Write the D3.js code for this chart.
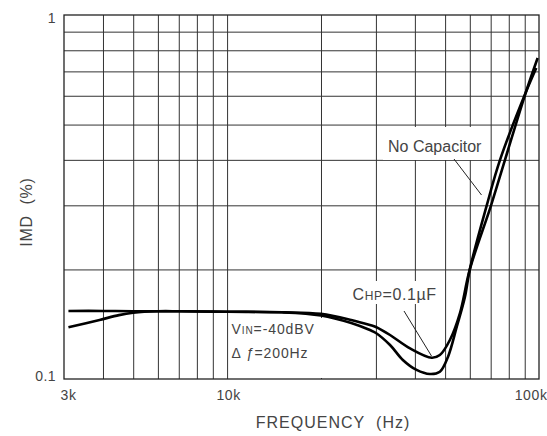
<!DOCTYPE html>
<html>
<head>
<meta charset="utf-8">
<script src="https://cdn.jsdelivr.net/npm/d3@7"></script>
<style>
  html, body { margin: 0; padding: 0; background: #fff; }
  svg { display: block; }
  text { font-family: "Liberation Sans", Arial, Helvetica, sans-serif; fill: #444; white-space: pre; }
</style>
</head>
<body>
<svg id="chart" width="547" height="436"></svg>
<script>
// ---------- data ----------
const xTickValues = [3000, 10000, 100000];
const xTickLabels = ["3k", "10k", "100k"];
const yTickValues = [0.1, 1];
const yTickLabels = ["0.1", "1"];
const xGridValues = [4000, 5000, 6000, 7000, 8000, 9000, 10000, 20000, 30000, 40000, 50000, 60000, 70000, 80000, 90000];
const yGridValues = [0.2, 0.3, 0.4, 0.5, 0.6, 0.7, 0.8, 0.9];

// "No Capacitor" curve (deeper dip)
const noCapFreq = [3100, 4000, 5000, 7000, 10000, 15000, 20000, 25000, 28700, 30000, 33300, 36600, 40500, 44700, 48100, 51100, 54500, 57900, 60000, 68000, 75000, 90800, 98000];
const noCapImd  = [0.1538, 0.1538, 0.1535, 0.1535, 0.153, 0.1525, 0.1495, 0.1425, 0.1363, 0.1338, 0.124, 0.1128, 0.1059, 0.1032, 0.1047, 0.1152, 0.1392, 0.1683, 0.2, 0.3, 0.4, 0.614, 0.715];

// "CHP=0.1µF" curve (shallower dip)
const chpFreq = [3100, 3900, 4500, 5000, 6000, 7000, 10000, 15000, 20000, 25000, 28700, 30000, 33300, 38600, 45300, 48100, 51800, 55800, 60000, 70200, 77800, 90800, 99000];
const chpImd  = [0.1387, 0.1453, 0.1498, 0.152, 0.1535, 0.1535, 0.153, 0.1525, 0.151, 0.1453, 0.1407, 0.139, 0.1321, 0.1214, 0.1144, 0.1164, 0.128, 0.1518, 0.2, 0.3, 0.4, 0.614, 0.762];

// ---------- layout ----------
const svg = d3.select("#chart");
const L = 64, R = 539, T = 15, B = 379;

const x = d3.scaleLog().domain([3000, 100000]).range([L, R]);
const y = d3.scaleLog().domain([0.1, 1]).range([B, T]);

// gridlines via axes
const gx = svg.append("g").attr("transform", `translate(0,${B})`)
  .call(d3.axisBottom(x).tickValues(xGridValues).tickSize(-(B - T)).tickFormat(""));
gx.select(".domain").remove();
gx.selectAll("line").attr("stroke", "#333").attr("stroke-width", 1);

const gy = svg.append("g").attr("transform", `translate(${L},0)`)
  .call(d3.axisLeft(y).tickValues(yGridValues).tickSize(-(R - L)).tickFormat(""));
gy.select(".domain").remove();
gy.selectAll("line").attr("stroke", "#333").attr("stroke-width", 1);

// white label backgrounds (cover gridlines)
const boxes = [
  {x: 383, y: 127, w: 106, h: 33},
  {x: 349, y: 281, w: 91, h: 23},
  {x: 229, y: 318, w: 93, h: 60}
];
svg.selectAll("rect.bg").data(boxes).enter().append("rect")
  .attr("class", "bg")
  .attr("x", d => d.x).attr("y", d => d.y)
  .attr("width", d => d.w).attr("height", d => d.h)
  .attr("fill", "#fff");

// frame
svg.append("rect").attr("x", L).attr("y", T).attr("width", R - L).attr("height", B - T)
  .attr("fill", "none").attr("stroke", "#222").attr("stroke-width", 1.3);

// curves
const line = d3.line().x(d => x(d[0])).y(d => y(d[1])).curve(d3.curveCatmullRom.alpha(0.5));
const series = [
  d3.zip(noCapFreq, noCapImd),
  d3.zip(chpFreq, chpImd)
];
svg.selectAll("path.curve").data(series).enter().append("path")
  .attr("class", "curve")
  .attr("d", line)
  .attr("fill", "none")
  .attr("stroke", "#000")
  .attr("stroke-width", 2.6)
  .attr("stroke-linejoin", "round");

// tick labels via axes
const ax = svg.append("g").attr("transform", `translate(0,${B})`)
  .call(d3.axisBottom(x).tickValues(xTickValues).tickSize(0).tickPadding(11)
    .tickFormat((d, i) => xTickLabels[i]));
ax.select(".domain").remove();
ax.attr("font-family", null).attr("font-size", null);
ax.selectAll("text")
  .style("font-size", "14px").style("letter-spacing", "0.6px")
  .attr("fill", "#444")
  .attr("text-anchor", (d, i) => i === 2 ? "end" : "middle")
  .attr("dx", (d, i) => i === 0 ? 4 : (i === 1 ? 1 : 8));

const ay = svg.append("g").attr("transform", `translate(${L},0)`)
  .call(d3.axisLeft(y).tickValues(yTickValues).tickSize(0).tickPadding(8)
    .tickFormat((d, i) => yTickLabels[i]));
ay.select(".domain").remove();
ay.attr("font-family", null).attr("font-size", null);
ay.selectAll("text")
  .style("font-size", "14px").style("letter-spacing", "0.4px")
  .attr("fill", "#444")
  .attr("dy", (d, i) => i === 0 ? "0.1em" : "0.5em");

// axis titles
svg.append("text").attr("x", 333).attr("y", 428).attr("text-anchor", "middle")
  .style("font-size", "16px").style("letter-spacing", "1px")
  .text("FREQUENCY\u00A0\u00A0(Hz)");
svg.append("text").attr("transform", "translate(31.5,212) rotate(-90)").attr("text-anchor", "middle")
  .style("font-size", "16px").style("letter-spacing", "0.8px")
  .text("IMD\u00A0\u00A0(%)");

// annotations
svg.append("text").attr("x", 388).attr("y", 151.5)
  .style("font-size", "16px").text("No Capacitor");
svg.append("line").attr("x1", 454).attr("y1", 159).attr("x2", 481.5).attr("y2", 195)
  .attr("stroke", "#222").attr("stroke-width", 1);

const chp = svg.append("text").attr("x", 352.5).attr("y", 300)
  .style("font-size", "16px").style("letter-spacing", "0.6px");
chp.append("tspan").text("C");
chp.append("tspan").style("font-size", "12px").text("HP");
chp.append("tspan").text("=0.1µF");
svg.append("line").attr("x1", 404).attr("y1", 311).attr("x2", 431.5).attr("y2", 356)
  .attr("stroke", "#222").attr("stroke-width", 1);

const vin = svg.append("text").attr("x", 231.5).attr("y", 334.3)
  .style("font-size", "14px").style("letter-spacing", "0.9px");
vin.append("tspan").text("V");
vin.append("tspan").style("font-size", "10px").text("IN");
vin.append("tspan").text("=-40dBV");

const df = svg.append("text").attr("x", 231.5).attr("y", 358.3)
  .style("font-size", "14px").style("letter-spacing", "0.9px");
df.append("tspan").text("Δ ");
df.append("tspan").style("font-style", "italic").text("ƒ");
df.append("tspan").text("=200Hz");
</script>
</body>
</html>
